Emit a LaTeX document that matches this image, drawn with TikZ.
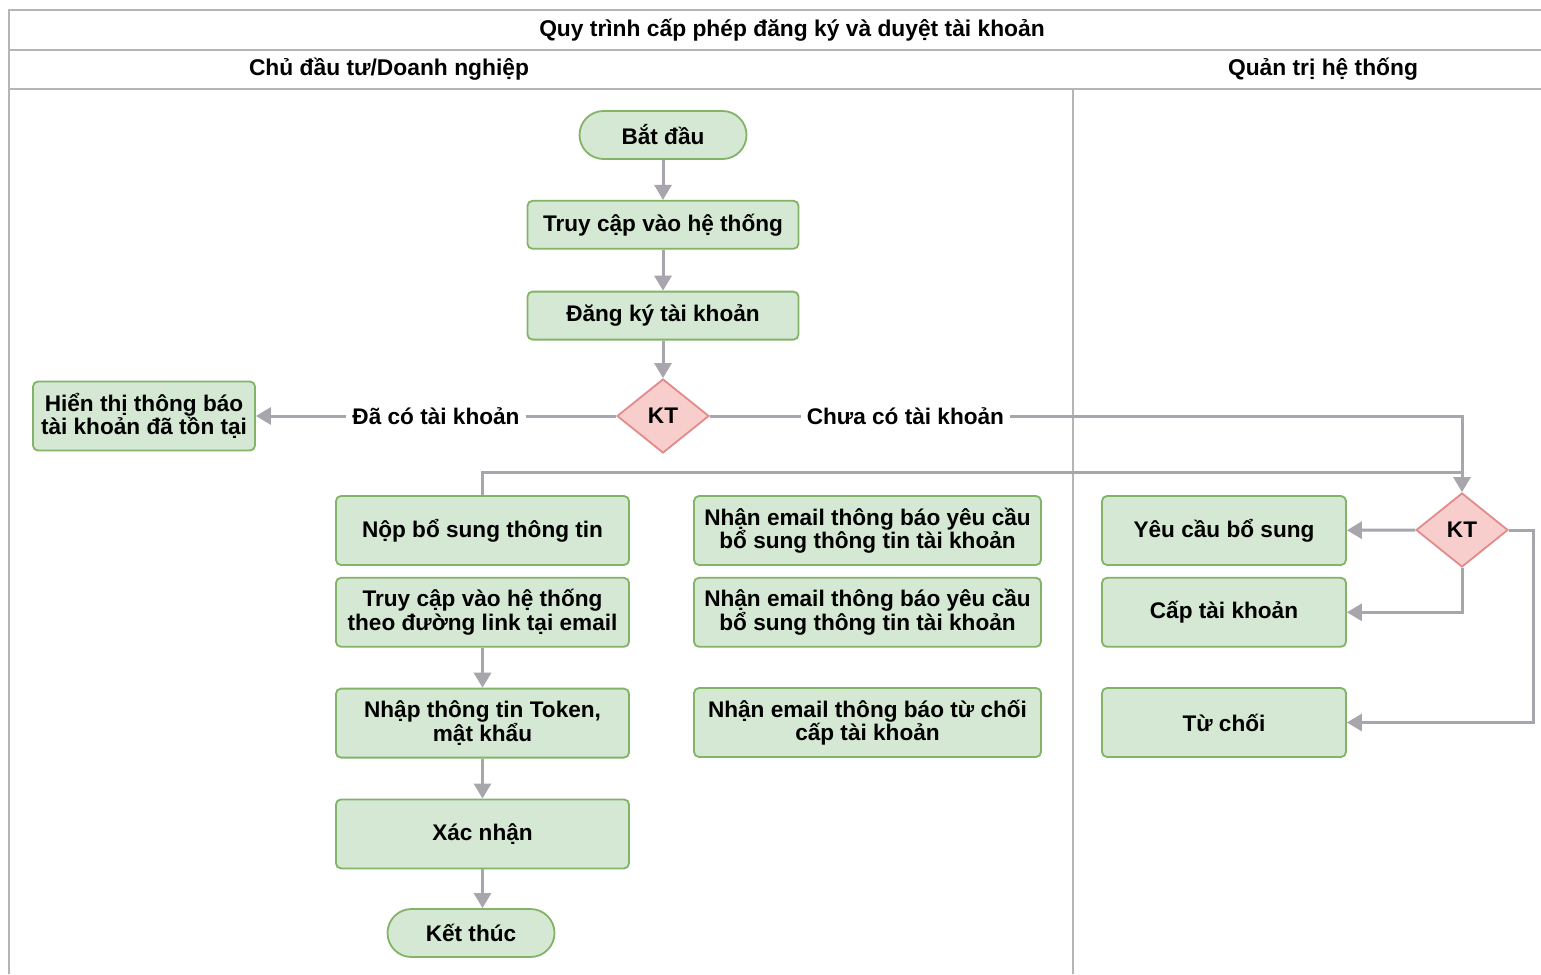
\documentclass[tikz,border=0pt]{standalone}
\usepackage{fontspec}
\setmainfont{Liberation Sans}
\usetikzlibrary{positioning, shapes.geometric, arrows.meta}
\definecolor{boxfill}{HTML}{D5E8D4}
\definecolor{boxline}{HTML}{82B366}
\definecolor{ktfill}{HTML}{F8CECC}
\definecolor{ktline}{HTML}{E38A8A}
\definecolor{flowgray}{HTML}{A9A5AD}
\definecolor{lanegray}{HTML}{B5B5B5}
\tikzset{
% boxes
box/.style={rectangle, rounded corners=2.5pt, draw=boxline, fill=boxfill, line width=0.9pt,
  align=center, inner sep=2pt, font=\fontsize{11.3}{11.7}\selectfont\bfseries},
term/.style={box, rounded corners=12pt, minimum width=83.5pt, minimum height=24pt},
lbox/.style={box, minimum width=146.5pt, minimum height=34.5pt},
mbox/.style={box, minimum width=173.5pt, minimum height=34.5pt},
rbox/.style={box, minimum width=122pt, minimum height=34.5pt},
kt/.style={diamond, aspect=1.24, draw=ktline, fill=ktfill, line width=0.9pt, inner sep=0pt,
  minimum width=46pt, minimum height=37pt, font=\fontsize{11.3}{12}\selectfont\bfseries},
% connectors
arr/.style={draw=flowgray, line width=1.5pt, -{Triangle[width=8.5pt,length=7.5pt]}},
wire/.style={draw=flowgray, line width=1.5pt},
lbl/.style={fill=white, inner sep=3pt, font=\fontsize{11.3}{12}\selectfont\bfseries},
lane/.style={draw=lanegray, line width=0.8pt},
head/.style={font=\fontsize{11.4}{13}\selectfont\bfseries},
}

\begin{document}
\begin{tikzpicture}[x=0.5pt, y=-0.5pt, node distance=20pt]
\useasboundingbox[fill=white] (0,0) rectangle (1541,974);

% Lanes
\draw[lane] (9,974) |- (1541,10);
\draw[lane] (9,50) -- (1541,50);
\draw[lane] (9,89) -- (1541,89);
\draw[lane] (1073,89) -- (1073,974);
\node (title) [head] at (792,30) {Quy trình cấp phép đăng ký và duyệt tài khoản};
\node (lane1) [head] at (389,69) {Chủ đầu tư/Doanh nghiệp};
\node (lane2) [head] at (1323,69) {Quản trị hệ thống};

% Nodes
\node (start) [term] at (663,135) {Bắt đầu};
\node (access) [box, minimum width=135.5pt, minimum height=24pt, below=20pt of start] {Truy cập vào hệ thống};
\node (register) [box, minimum width=135.5pt, minimum height=24pt, below=20.5pt of access] {Đăng ký tài khoản};
\node (kt1) [kt] at (663,416) {KT};
\node (exists) [box, minimum width=111pt, minimum height=34.5pt] at (144,416) {Hiển thị thông báo\\tài khoản đã tồn tại};

\node (submit) [lbox] at (482.5,530.5) {Nộp bổ sung thông tin};
\node (link) [lbox, below=5.5pt of submit] {Truy cập vào hệ thống\\theo đường link tại email};
\node (token) [lbox, below=of link] {Nhập thông tin Token,\\mật khẩu};
\node (confirm) [lbox, below=of token] {Xác nhận};
\node (finish) [term] at (471,933) {Kết thúc};

\node (mail1) [mbox] at (867.5,530.5) {Nhận email thông báo yêu cầu\\bổ sung thông tin tài khoản};
\node (mail2) [mbox, below=5.5pt of mail1] {Nhận email thông báo yêu cầu\\bổ sung thông tin tài khoản};
\node (mail3) [mbox] at (867.5,722.5) {Nhận email thông báo từ chối\\cấp tài khoản};

\node (kt2) [kt] at (1462,530) {KT};
\node (request) [rbox] at (1224,530.5) {Yêu cầu bổ sung};
\node (grant) [rbox, below=5.5pt of request] {Cấp tài khoản};
\node (reject) [rbox] at (1224,722.5) {Từ chối};

\coordinate (join) at (1462,472);
\coordinate (side) at (1533,530);

% Connectors
\draw[arr] (start) -- (access);
\draw[arr] (access) -- (register);
\draw[arr] (register) -- (kt1);
\draw[arr] (kt1) -- node[lbl] {Đã có tài khoản} (exists);
\draw[arr] (kt1) -| node[lbl, pos=0.13] {Chưa có tài khoản} (kt2);
\draw[wire] (submit) |- (join);
\draw[arr] (kt2) -- (request);
\draw[arr] (kt2) |- (grant);
\draw[arr] (kt2.east) -- (side) |- (reject);
\draw[arr] (link) -- (token);
\draw[arr] (token) -- (confirm);
\draw[arr] (confirm.south) -- (confirm.south |- finish.north);

\end{tikzpicture}
\end{document}
